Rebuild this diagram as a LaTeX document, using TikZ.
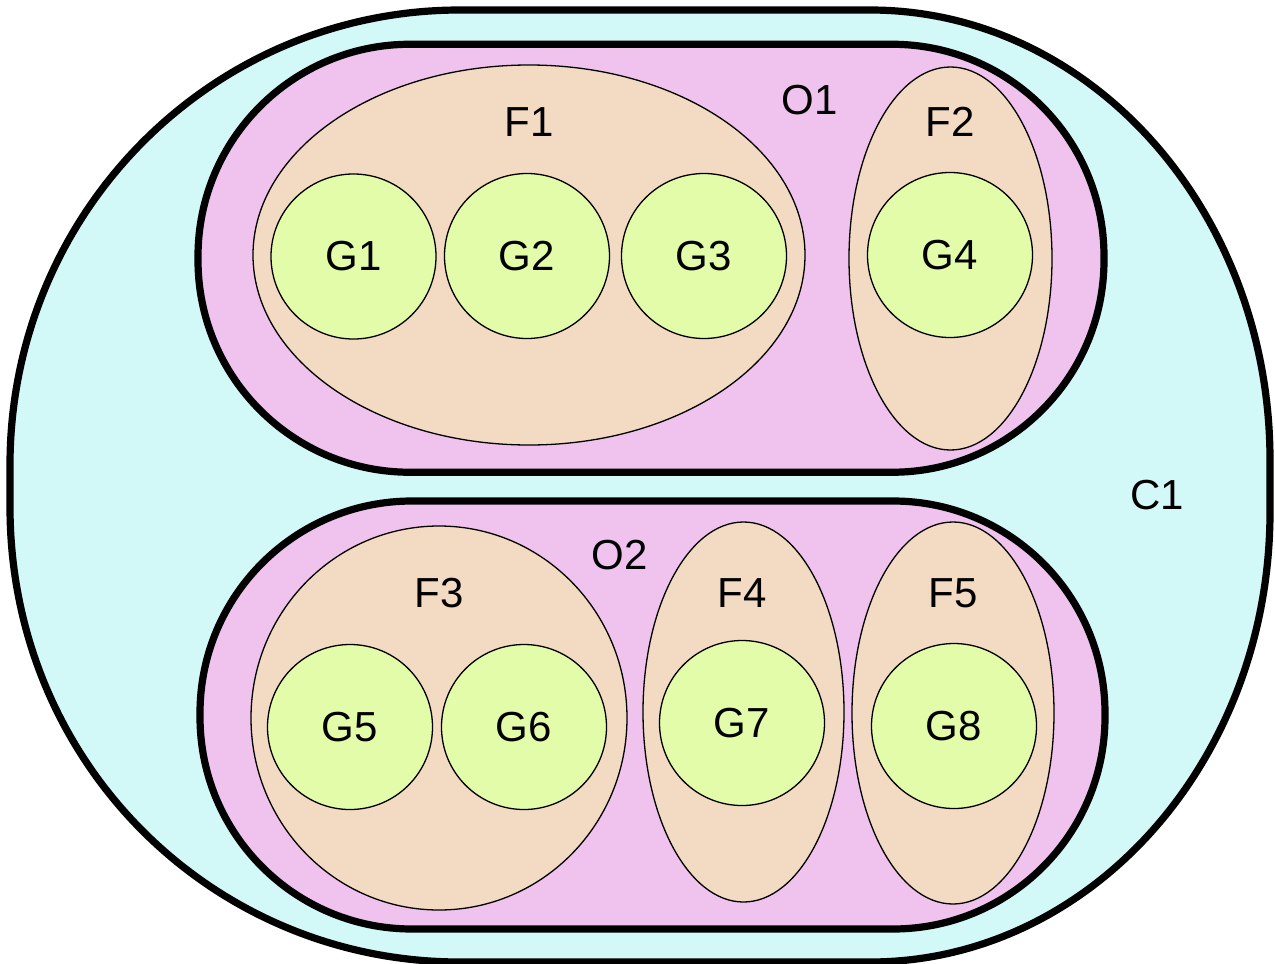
\documentclass[tikz,border=0pt]{standalone}
\usepackage{fontspec}
\setmainfont{Liberation Sans}
\usetikzlibrary{shapes.geometric}
\definecolor{cfill}{RGB}{211,248,248}
\definecolor{ofill}{RGB}{240,195,238}
\definecolor{ffill}{RGB}{242,218,195}
\definecolor{gfill}{RGB}{226,252,170}
\tikzset{
  outerline/.style={draw=black, line width=3.6pt},
  obox/.style={outerline, fill=ofill, rectangle, rounded corners=106pt, minimum height=214pt, inner sep=0pt},
  fell/.style={draw=black, line width=0.65pt, fill=ffill, ellipse, inner sep=0pt},
  gcirc/.style={draw=black, line width=0.65pt, fill=gfill, circle, minimum size=82.5pt, inner sep=0pt, font=\fontsize{21pt}{23pt}\selectfont},
  lab/.style={inner sep=0pt, font=\fontsize{21pt}{23pt}\selectfont}
}
\begin{document}
\begin{tikzpicture}[x=0.5pt,y=-0.5pt]
\useasboundingbox (0,0) rectangle (1275,964);
% C1
\draw[outerline, fill=cfill]
  (10,465) .. controls (10,213) and (211.5,10) .. (460,10)
  -- (870,10) .. controls (1090.9,10) and (1270,211.5) .. (1270,460)
  -- (1270,512) .. controls (1270,760.5) and (1090.9,962) .. (870,962)
  -- (460,962) .. controls (211.5,962) and (10,762) .. (10,507) -- cycle;
\node[lab] (C1) at (1157,495) {C1};
% O1, O2
\node[obox, minimum width=453pt] (O1) at (651,258.25) {};
\node[obox, minimum width=452.5pt] (O2) at (652.5,715) {};
\node[lab] (O1l) at (810,100) {O1};
\node[lab] (O2l) at (620,555) {O2};
% F ellipses
\node[fell, minimum width=276pt, minimum height=190pt] (F1) at (529,255) {};
\node[fell, minimum width=101.5pt, minimum height=191.5pt] (F2) at (950.5,258.5) {};
\node[fell, minimum width=188pt, minimum height=192pt] (F3) at (439,718) {};
\node[fell, minimum width=100.5pt, minimum height=190pt] (F4) at (743.5,712) {};
\node[fell, minimum width=101pt, minimum height=191pt] (F5) at (953,713) {};
\node[lab] (F1l) at (529,122) {F1};
\node[lab] (F2l) at (950,122) {F2};
\node[lab] (F3l) at (439,593) {F3};
\node[lab] (F4l) at (742,593) {F4};
\node[lab] (F5l) at (953,593) {F5};
% G circles
\node[gcirc] (G1) at (353.5,256.5) {G1};
\node[gcirc] (G2) at (527,256) {G2};
\node[gcirc] (G3) at (704,256) {G3};
\node[gcirc] (G4) at (950,255) {G4};
\node[gcirc] (G5) at (350,727) {G5};
\node[gcirc] (G6) at (524,727) {G6};
\node[gcirc] (G7) at (742,723) {G7};
\node[gcirc] (G8) at (954,726) {G8};
\end{tikzpicture}
\end{document}
